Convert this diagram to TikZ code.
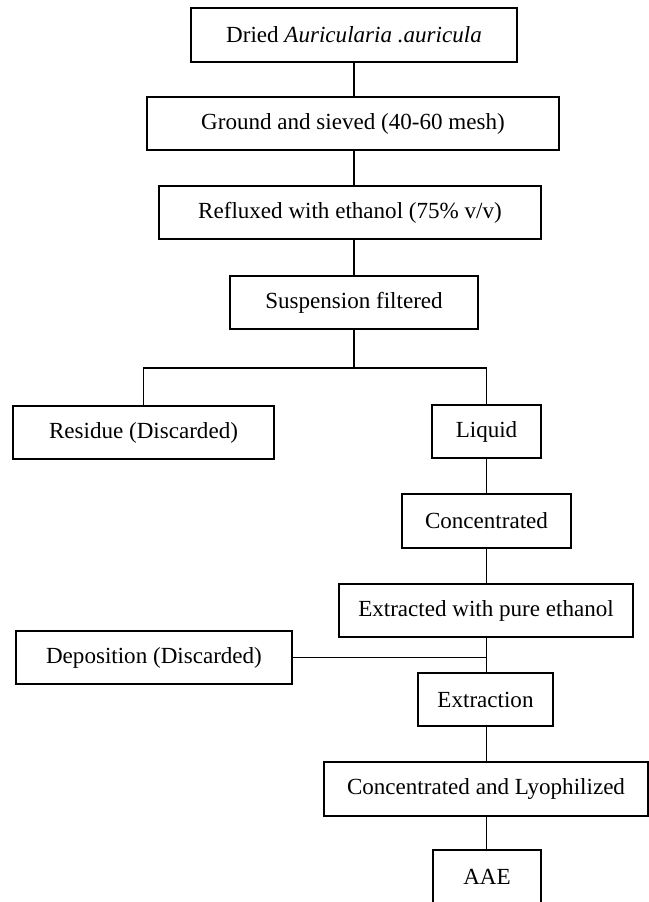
\documentclass[tikz,border=0pt]{standalone}
\usepackage{fontspec}
\setmainfont{Liberation Serif}
\tikzset{
	stage/.style={draw, line width=0.8pt, inner sep=0pt, minimum height=53*0.025cm, font=\fontsize{16.4}{19}\selectfont},
	wide/.style={minimum width=#1*0.025cm},
	link/.style={line width=0.8pt}
}
\begin{document}
\begin{tikzpicture}[x=0.025cm,y=-0.025cm]
			\useasboundingbox (0,0) rectangle (649,902);
			\node[stage, wide=326, minimum height=54*0.025cm] (dried) at (354,35) {Dried \textit{Auricularia .auricula}};
			\node[stage, wide=412] (ground) at (353,123.5) {Ground and sieved (40-60 mesh)};
			\node[stage, wide=382] (reflux) at (350,212.5) {Refluxed with ethanol (75\% v/v)};
			\node[stage, wide=248] (filter) at (354,302.5) {Suspension filtered};
			\node[stage, wide=261] (residue) at (143.5,432.5) {Residue (Discarded)};
			\node[stage, wide=109] (liquid) at (486.5,431.5) {Liquid};
			\node[stage, wide=169, minimum height=54*0.025cm] (conc) at (486.5,521) {Concentrated};
			\node[stage, wide=294] (pure) at (486,610.5) {Extracted with pure ethanol};
			\node[stage, wide=276] (deposit) at (154,657.5) {Deposition (Discarded)};
			\node[stage, wide=135] (extract) at (485.5,699.5) {Extraction};
			\node[stage, wide=324, minimum height=54*0.025cm] (lyo) at (486,789) {Concentrated and Lyophilized};
			\node[stage, wide=108] (aae) at (487,876.5) {AAE};
			\coordinate (fork) at (354,368);
			\draw[link] (dried.south) to (dried.south |- ground.north);
			\draw[link] (dried.south |- ground.south) to (dried.south |- reflux.north);
			\draw[link] (dried.south |- reflux.south) to (dried.south |- filter.north);
			\draw[link] (filter.south) to (fork);
			\draw[link] (residue.north) |- (fork) -| (liquid.north);
			\draw[link] (liquid.south) to (liquid.south |- conc.north);
			\draw[link] (liquid.south |- conc.south) to (liquid.south |- pure.north);
			\draw[link] (liquid.south |- pure.south) to (liquid.south |- extract.north);
			\draw[link] (deposit.east) to (deposit.east -| liquid.south);
			\draw[link] (liquid.south |- extract.south) to (liquid.south |- lyo.north);
			\draw[link] (liquid.south |- lyo.south) to (liquid.south |- aae.north);
		\end{tikzpicture}
\end{document}
